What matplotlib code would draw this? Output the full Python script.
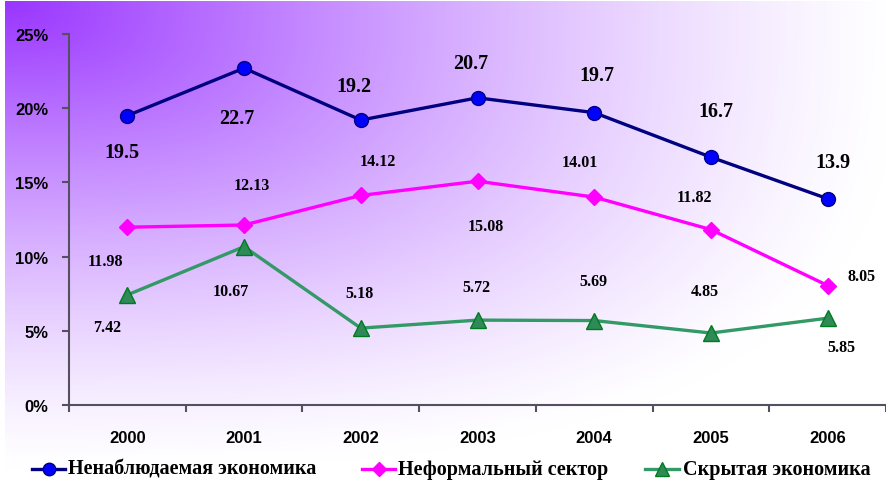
import numpy as np
import matplotlib
matplotlib.use("Agg")
import matplotlib.pyplot as plt
from matplotlib import font_manager
from matplotlib.lines import Line2D

# данные с графика
years = ["2000", "2001", "2002", "2003", "2004", "2005", "2006"]
unobserved = [19.5, 22.7, 19.2, 20.7, 19.7, 16.7, 13.9]
informal = [11.98, 12.13, 14.12, 15.08, 14.01, 11.82, 8.05]
hidden = [7.42, 10.67, 5.18, 5.72, 5.69, 4.85, 5.85]
names = ["Ненаблюдаемая экономика", "Неформальный сектор", "Скрытая экономика"]
yticks = [0, 5, 10, 15, 20, 25]

# смещения подписей (пиксели: вправо, вниз)
off_unobs = [(-5, 36), (-7, 50), (-7, -34), (-7, -35), (3, -38), (5, -46), (5, -37)]
off_inf = [(-22, 34), (8, -40), (17, -34), (8, 45), (-14, -35), (-16, -33), (34, -10)]
off_hid = [(-20, 32), (-13, 44), (-1, -35), (-1, -33), (-1, -40), (-6, -42), (14, 29)]


def pick_font(candidates):
    for name in candidates:
        try:
            font_manager.findfont(name, fallback_to_default=False)
            return name
        except Exception:
            pass
    return "DejaVu Sans"


sans = pick_font(["Liberation Sans Narrow", "Liberation Sans", "Arial"])
serif = pick_font(["Liberation Serif", "DejaVu Serif"])

W, H = 886, 485
fig = plt.figure(figsize=(W / 100, H / 100), dpi=100)

# градиентный фон: фиолетовый из левого верхнего угла к белому
bg = fig.add_axes([0, 0, 1, 1], zorder=0)
yy, xx = np.mgrid[0:H, 0:W]
t = np.clip(((xx / 900.0) ** 3 + (yy / 470.0) ** 3) ** (1 / 3), 0, 1)
k = (1 - t) ** 1.3
purple = np.array([153, 51, 255]) / 255.0
img = 1 - (1 - purple)[None, None, :] * k[:, :, None]
img[:2, :, :] = 1.0
img[:, :5, :] = 1.0
bg.imshow(img, extent=(0, W, H, 0), aspect="auto", interpolation="bilinear")
bg.set_xlim(0, W)
bg.set_ylim(H, 0)
bg.axis("off")

ax = fig.add_axes([69 / W, 1 - 406 / H, (W - 69) / W, 371 / H], zorder=1)
ax.patch.set_alpha(0)

styles = [
    dict(color="#000080", lw=2.4, marker="o", ms=10, mfc="#0000ff", mec="#000080", mew=1),
    dict(color="#ff00ff", lw=2.4, marker="D", ms=8, mfc="#ff00ff", mec="#ff00ff", mew=1),
    dict(color="#339966", lw=2.4, marker="^", ms=11, mfc="#2e8b57", mec="#007a1f", mew=1),
]

x = np.arange(len(years))
for vals, st in zip([unobserved, informal, hidden], styles):
    ax.plot(x, vals, zorder=3, **st)

for vals, offs, size in [(unobserved, off_unobs, 14.5),
                         (informal, off_inf, 11.5),
                         (hidden, off_hid, 11.5)]:
    for i, v in enumerate(vals):
        dx, dy = offs[i]
        ax.annotate(f"{v:g}", (x[i], v), xytext=(dx, -dy), textcoords="offset pixels",
                    ha="center", va="center", fontsize=size, fontweight="bold",
                    family=serif, color="black")

ax.set_xlim(-0.5, len(years) - 0.5)
ax.set_ylim(0, 25)
ax.set_yticks(yticks)
ax.set_yticklabels([f"{v}%" for v in yticks])
ax.set_xticks(x)
ax.set_xticklabels(years)
ax.set_xticks(np.arange(-0.5, len(years), 1), minor=True)

for s in ["top", "right"]:
    ax.spines[s].set_visible(False)
for s in ["left", "bottom"]:
    ax.spines[s].set_color("#555060")
    ax.spines[s].set_linewidth(1.5)

ax.tick_params(axis="y", direction="out", length=5, width=1.5, color="#555060", pad=10)
ax.tick_params(axis="x", which="major", length=0, pad=18)
ax.tick_params(axis="x", which="minor", direction="out", length=5, width=1.5, color="#555060")
for lab in ax.get_xticklabels() + ax.get_yticklabels():
    lab.set_family(sans)
    lab.set_fontweight("bold")
    lab.set_fontsize(12)

# легенда внизу, вручную
leg_y = 1 - 470 / H
leg_handles = [(32, 65, 68), (362, 395, 398), (645, 679, 683)]
for (x0, x1, tx), st, name in zip(leg_handles, styles, names):
    fig.add_artist(Line2D([x0 / W, x1 / W], [leg_y, leg_y], color=st["color"],
                          lw=st["lw"], transform=fig.transFigure, zorder=5))
    fig.add_artist(Line2D([(x0 + x1) / 2 / W], [leg_y], marker=st["marker"],
                          ms=st["ms"] * 0.9, mfc=st["mfc"], mec=st["mec"], mew=st["mew"],
                          ls="none", transform=fig.transFigure, zorder=6))
    fig.text(tx / W, leg_y, name, ha="left", va="center", family=serif,
             fontweight="bold", fontsize=14.5, zorder=6)

fig.savefig("out.png", dpi=100)
